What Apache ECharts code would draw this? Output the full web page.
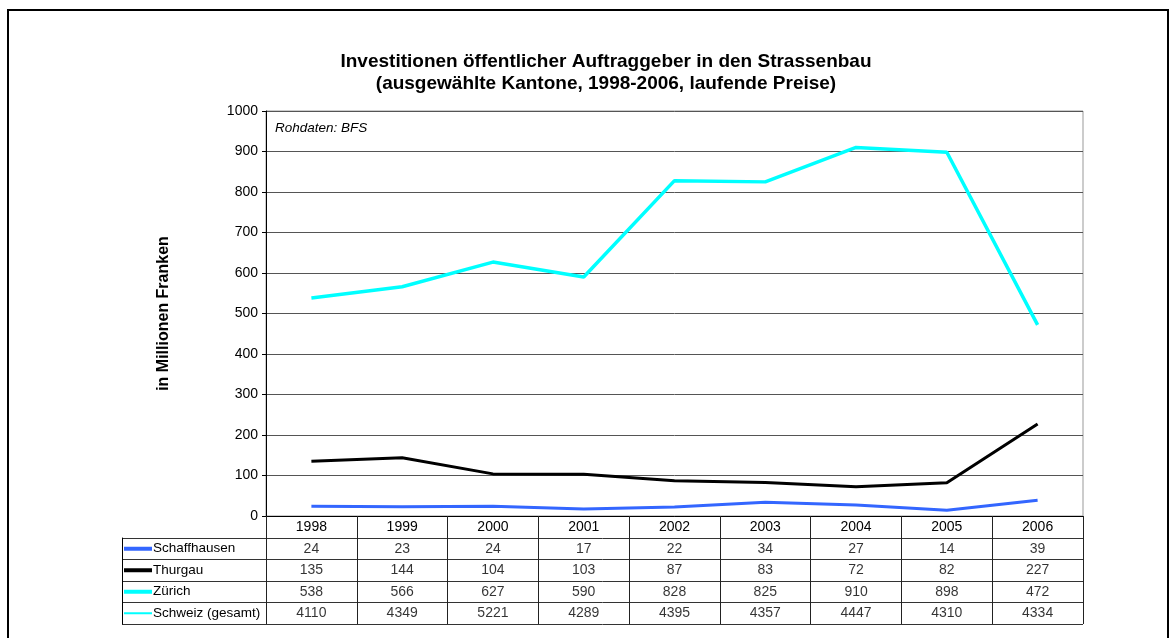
<!DOCTYPE html>
<html>
<head>
<meta charset="utf-8">
<script src="https://cdn.jsdelivr.net/npm/echarts@6/dist/echarts.min.js"></script>
<style>
  html, body { margin: 0; padding: 0; background: #fff; }
  #main { width: 1169px; height: 638px; }
</style>
</head>
<body>
<div id="main"></div>
<script>
  // Daten (Mio. CHF)
  var years = ['1998', '1999', '2000', '2001', '2002', '2003', '2004', '2005', '2006'];
  var rowNames = ['Schaffhausen', 'Thurgau', 'Zürich', 'Schweiz (gesamt)'];
  var schaffhausen = [24, 23, 24, 17, 22, 34, 27, 14, 39];
  var thurgau = [135, 144, 104, 103, 87, 83, 72, 82, 227];
  var zuerich = [538, 566, 627, 590, 828, 825, 910, 898, 472];
  var schweiz = [4110, 4349, 5221, 4289, 4395, 4357, 4447, 4310, 4334];
  var yTicks = [0, 1000, 100];

  var rows = [schaffhausen, thurgau, zuerich, schweiz];
  var colors = ['#3366ff', '#000000', '#00ffff', '#00ffff'];
  var font = 'Liberation Sans, Arial, sans-serif';

  var tableData = [];
  rows.forEach(function (r, ri) {
    r.forEach(function (v, i) { tableData.push([i, ri, v]); });
  });

  var keyRich = {
    n: { fontSize: 13.5, color: '#000', fontFamily: font, padding: [0, 0, 0, 1] }
  };
  colors.forEach(function (c, i) {
    keyRich['k' + i] = { width: 28, height: i === 3 ? 2 : 4, backgroundColor: c, fontSize: 1 };
  });

  var myChart = echarts.init(document.getElementById('main'));
  myChart.setOption({
    animation: false,
    textStyle: { fontFamily: font },
    graphic: [
      { type: 'rect', shape: { x: 8, y: 10, width: 1160, height: 640 },
        style: { fill: 'none', stroke: '#000', lineWidth: 2 }, silent: true },
      { type: 'text', x: 606, y: 73,
        style: { text: 'Investitionen öffentlicher Auftraggeber in den Strassenbau\n(ausgewählte Kantone, 1998-2006, laufende Preise)',
          font: 'bold 19px ' + font, fill: '#000', align: 'center', verticalAlign: 'middle', lineHeight: 22 } },
      { type: 'text', x: 275, y: 128,
        style: { text: 'Rohdaten: BFS', font: 'italic 13.5px ' + font, fill: '#000', verticalAlign: 'middle' } }
    ],
    grid: [
      { left: 266, right: 86, top: 111, bottom: 122, show: true, borderColor: '#999', borderWidth: 1 },
      { left: 122, right: 86, top: 538, bottom: 14 },
      { left: 266, right: 86, top: 538, bottom: 14 }
    ],
    xAxis: [
      { type: 'category', data: years, gridIndex: 0, boundaryGap: true,
        axisLine: { lineStyle: { color: '#000', width: 1 } },
        axisTick: { show: true, interval: 0, length: 108, lineStyle: { color: '#222' } },
        axisLabel: { interval: 0, color: '#000', fontSize: 14, margin: 4 },
        splitLine: { show: false } },
      { type: 'value', gridIndex: 1, show: false },
      { type: 'category', data: years, gridIndex: 2, show: false }
    ],
    yAxis: [
      { type: 'value', gridIndex: 0, min: yTicks[0], max: yTicks[1], interval: yTicks[2],
        name: 'in Millionen Franken', nameLocation: 'middle', nameGap: 94, nameRotate: 90,
        nameTextStyle: { fontWeight: 'bold', fontSize: 16, color: '#000' },
        axisLine: { show: true, lineStyle: { color: '#000' } },
        axisTick: { show: true, length: 4, lineStyle: { color: '#000' } },
        axisLabel: { color: '#000', fontSize: 14, margin: 8,
          formatter: function (v) { return String(v); } },
        splitLine: { lineStyle: { color: '#555', width: 1 } } },
      { type: 'category', data: rowNames, gridIndex: 1, inverse: true,
        axisLine: { show: true, lineStyle: { color: '#000' } },
        axisTick: { show: false },
        splitLine: { show: true, interval: 0, lineStyle: { color: '#333' } },
        axisLabel: { inside: true, margin: 2, interval: 0,
          formatter: function (v, i) { return '{k' + i + '| }{n|' + v + '}'; },
          rich: keyRich } },
      { type: 'category', data: rowNames, gridIndex: 2, inverse: true, show: false }
    ],
    series: [
      { name: 'Schaffhausen', type: 'line', data: schaffhausen, showSymbol: false,
        lineStyle: { color: colors[0], width: 3 } },
      { name: 'Thurgau', type: 'line', data: thurgau, showSymbol: false,
        lineStyle: { color: colors[1], width: 3 } },
      { name: 'Zürich', type: 'line', data: zuerich, showSymbol: false,
        lineStyle: { color: colors[2], width: 3.5 } },
      { name: 'Tabelle', type: 'scatter', xAxisIndex: 2, yAxisIndex: 2, data: tableData,
        symbolSize: 1, itemStyle: { color: 'rgba(0,0,0,0)' }, silent: true,
        label: { show: true, position: 'inside', color: '#000', fontSize: 14,
          formatter: function (p) { return p.value[2]; } } }
    ]
  });
</script>
</body>
</html>
